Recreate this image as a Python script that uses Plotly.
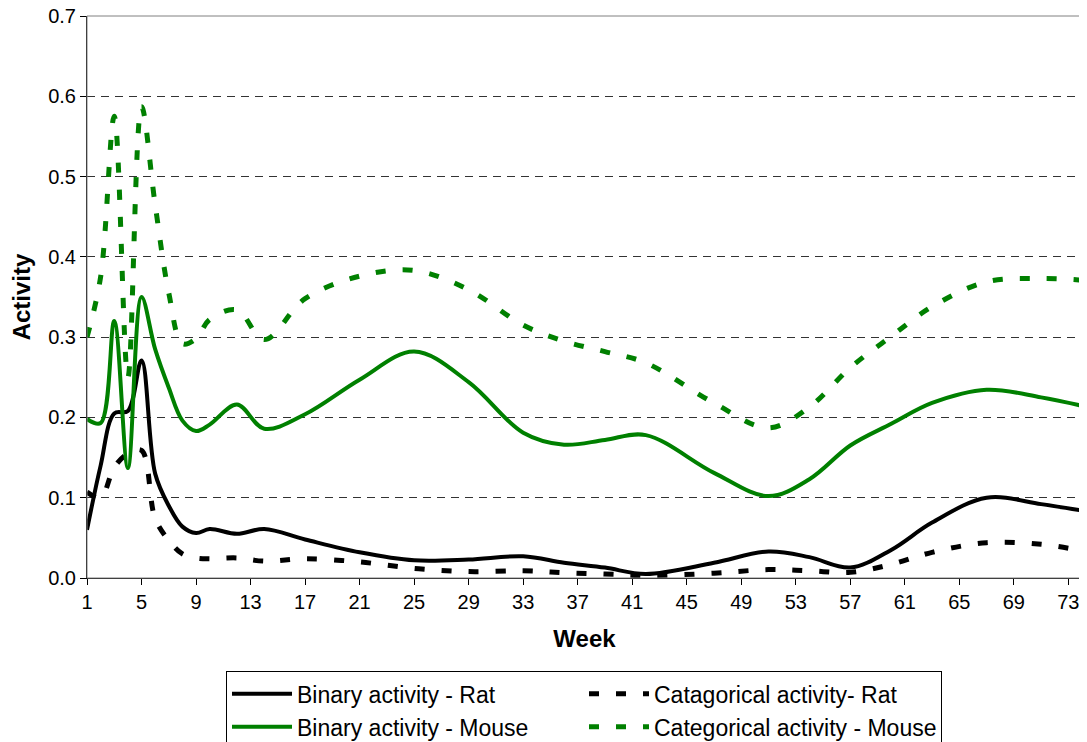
import plotly.graph_objects as go

weeks = [1, 2, 3, 4, 5, 6, 7, 8, 9, 10, 12, 14, 17, 21, 25, 29, 33, 36, 39, 42,
         47, 51, 54, 57, 60, 63, 67, 71, 74]

binary_rat = [0.060, 0.140, 0.205, 0.208, 0.271, 0.130, 0.090, 0.064, 0.056, 0.061,
              0.055, 0.061, 0.048, 0.032, 0.022, 0.023, 0.027, 0.019, 0.013, 0.005,
              0.019, 0.033, 0.026, 0.013, 0.035, 0.069, 0.100, 0.092, 0.084]

cat_rat = [0.107, 0.100, 0.138, 0.155, 0.159, 0.074, 0.047, 0.030, 0.025, 0.024,
           0.025, 0.021, 0.024, 0.020, 0.012, 0.008, 0.009, 0.0065, 0.005, 0.003,
           0.006, 0.0105, 0.009, 0.007, 0.017, 0.032, 0.044, 0.042, 0.034]

binary_mouse = [0.198, 0.193, 0.320, 0.137, 0.350, 0.285, 0.237, 0.196, 0.183, 0.191,
                0.216, 0.186, 0.204, 0.247, 0.282, 0.244, 0.181, 0.166, 0.172, 0.178,
                0.131, 0.102, 0.123, 0.165, 0.192, 0.218, 0.2345, 0.225, 0.2145]

cat_mouse = [0.300, 0.375, 0.575, 0.250, 0.587, 0.465, 0.355, 0.292, 0.298, 0.322,
             0.334, 0.297, 0.348, 0.376, 0.383, 0.359, 0.315, 0.295, 0.282, 0.268,
             0.218, 0.187, 0.213, 0.262, 0.301, 0.338, 0.369, 0.373, 0.371]

x_ticks = list(range(1, 74, 4))
y_ticks = [0.0, 0.1, 0.2, 0.3, 0.4, 0.5, 0.6, 0.7]

GREEN = "#008000"
FONT = "Liberation Sans, Arial, sans-serif"

fig = go.Figure()
series = [
    ("Binary activity - Rat", binary_rat, "black", "solid", 4),
    ("Catagorical activity- Rat", cat_rat, "black", "10px,17px", 5),
    ("Binary activity - Mouse", binary_mouse, GREEN, "solid", 4),
    ("Categorical activity - Mouse", cat_mouse, GREEN, "10px,17px", 5),
]
for name, vals, col, dash, w in series:
    fig.add_trace(go.Scatter(
        x=weeks, y=vals, name=name, mode="lines",
        line=dict(color=col, width=w, dash=dash, shape="spline", smoothing=1.0),
    ))

# the page body adds an 8px offset; the figure is sized to compensate
fig.update_layout(
    width=1079, height=734,
    margin=dict(l=79, r=5, t=8, b=163.5, autoexpand=False),
    paper_bgcolor="white", plot_bgcolor="white",
    font=dict(family=FONT, color="black", size=20),
    showlegend=True,
    legend=dict(
        orientation="h", x=0.1397, y=-0.1662, xanchor="left", yanchor="top",
        bordercolor="black", borderwidth=1, bgcolor="white",
        font=dict(size=23, family=FONT),
        entrywidth=282, entrywidthmode="pixels", itemwidth=60,
        traceorder="normal",
    ),
    shapes=[dict(type="rect", xref="paper", yref="paper", x0=0, x1=1, y0=0, y1=1,
                 line=dict(color="#808080", width=1), layer="above")],
)

fig.update_xaxes(
    range=[1, 74], tickmode="array", tickvals=x_ticks,
    ticktext=[str(t) for t in x_ticks],
    showgrid=False, zeroline=False, automargin=False,
    showline=True, linecolor="black", linewidth=1,
    ticks="outside", ticklen=6, tickcolor="black",
    tickfont=dict(size=20), ticklabeloverflow="allow",
    title=dict(text="<b>Week</b>", font=dict(size=24), standoff=18),
)
fig.update_yaxes(
    range=[0, 0.7], tickmode="array", tickvals=y_ticks,
    tickformat=".1f",
    showgrid=True, gridcolor="#333333", gridwidth=1, griddash="8px,6px",
    zeroline=False, automargin=False,
    showline=True, linecolor="black", linewidth=1,
    ticks="outside", ticklen=6, tickcolor="black",
    tickfont=dict(size=20), ticklabeloverflow="allow",
    title=dict(text="<b>Activity</b>", font=dict(size=24), standoff=12),
)

fig.write_html("out.html")
